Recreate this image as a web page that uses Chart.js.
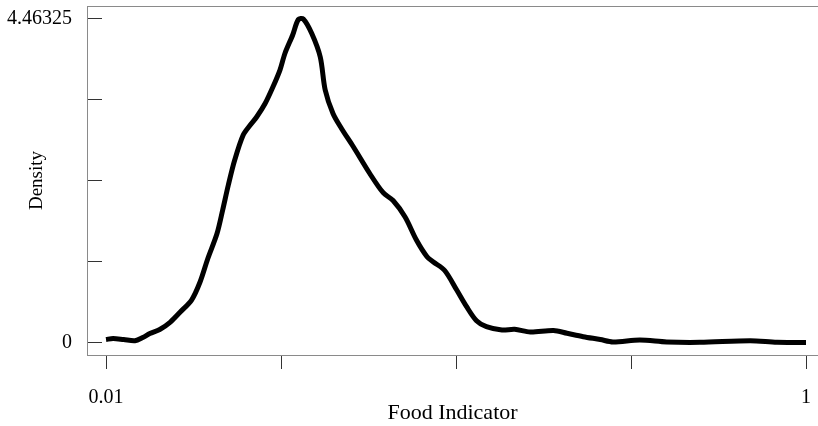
<!DOCTYPE html>
<html>
<head>
<meta charset="utf-8">
<script src="https://cdn.jsdelivr.net/npm/chart.js@4/dist/chart.umd.min.js"></script>
<style>
  html, body { margin: 0; padding: 0; background: #fff; }
  #wrap { width: 818px; height: 426px; position: relative; }
</style>
</head>
<body>
<div id="wrap"><canvas id="c" width="818" height="426"></canvas></div>
<script>
// Food indicator values (x) and estimated density (y)
const foodIndicator = [0.010, 0.020, 0.035, 0.051, 0.062, 0.072, 0.086, 0.101, 0.115, 0.131,
  0.143, 0.154, 0.167, 0.175, 0.183, 0.192, 0.204, 0.214, 0.223, 0.235,
  0.246, 0.256, 0.263, 0.274, 0.282, 0.289, 0.301, 0.313, 0.320, 0.331,
  0.343, 0.360, 0.383, 0.402, 0.416, 0.433, 0.449, 0.464, 0.473, 0.489,
  0.506, 0.520, 0.534, 0.548, 0.570, 0.588, 0.610, 0.643, 0.662, 0.685,
  0.709, 0.727, 0.765, 0.803, 0.850, 0.921, 0.959, 1.000];
const density = [0.041, 0.055, 0.041, 0.025, 0.069, 0.124, 0.179, 0.282, 0.420, 0.585,
  0.833, 1.157, 1.501, 1.825, 2.169, 2.513, 2.858, 2.996, 3.106, 3.292,
  3.519, 3.753, 3.981, 4.236, 4.449, 4.456, 4.256, 3.933, 3.478, 3.154,
  2.948, 2.693, 2.328, 2.063, 1.956, 1.729, 1.412, 1.182, 1.109, 0.992,
  0.723, 0.493, 0.300, 0.218, 0.172, 0.182, 0.145, 0.165, 0.127, 0.080,
  0.041, 0.008, 0.034, 0.007, 0.002, 0.025, 0.003, 0.001];

const xTickValues = [0.01, 0.2575, 0.505, 0.7525, 1];
const xTickLabels = ['0.01', '', '', '', '1'];
const yTickValues = [0, 1.1158, 2.2316, 3.3474, 4.46325];
const yTickLabels = ['0', '', '', '', '4.46325'];

const xTitle = 'Food Indicator';
const yTitle = 'Density';

const points = foodIndicator.map((x, i) => ({ x: x, y: density[i] }));
const serif = "'Liberation Serif', 'DejaVu Serif', serif";
const frameColor = '#8a8a8a';
const tickColor = '#333';

new Chart(document.getElementById('c'), {
  type: 'line',
  data: {
    datasets: [{
      data: points,
      borderColor: '#000',
      borderWidth: 5,
      pointRadius: 0,
      tension: 0.3,
      fill: false,
      borderJoinStyle: 'round',
      borderCapStyle: 'butt'
    }]
  },
  options: {
    responsive: false,
    animation: false,
    devicePixelRatio: 1,
    layout: { padding: 0 },
    plugins: { legend: { display: false }, tooltip: { enabled: false } },
    scales: {
      x: {
        type: 'linear',
        position: 'bottom',
        min: -0.0169,
        max: 1.01697,
        afterFit: s => { s.height = 71; s.paddingLeft = 0; s.paddingRight = 0; },
        afterBuildTicks: s => { s.ticks = xTickValues.map(v => ({ value: v })); },
        ticks: {
          autoSkip: false, maxRotation: 0, minRotation: 0,
          color: '#000', padding: 17,
          font: { family: serif, size: 20 },
          callback: (v, i) => xTickLabels[i]
        },
        grid: { drawOnChartArea: false, drawTicks: true, tickLength: 14, color: tickColor, lineWidth: 1 },
        border: { display: true, color: frameColor, width: 1 },
        title: { display: true, text: xTitle, color: '#000', font: { family: serif, size: 22 }, padding: { top: 0, bottom: 0 } }
      },
      xTop: {
        type: 'linear',
        position: 'top',
        min: -0.0169,
        max: 1.01697,
        afterFit: s => { s.height = 6; s.paddingLeft = 0; s.paddingRight = 0; },
        ticks: { display: false },
        grid: { display: false, drawTicks: false },
        border: { display: true, color: frameColor, width: 1 }
      },
      y: {
        type: 'linear',
        position: 'left',
        min: -0.172,
        max: 4.635,
        afterFit: s => { s.width = 87; s.paddingTop = 0; s.paddingBottom = 0; },
        afterBuildTicks: s => { s.ticks = yTickValues.map(v => ({ value: v })); },
        ticks: {
          autoSkip: false, color: '#000', padding: 30,
          font: { family: serif, size: 20 },
          callback: (v, i) => yTickLabels[i]
        },
        grid: { drawOnChartArea: false, drawTicks: true, tickLength: -15, color: tickColor, lineWidth: 1 },
        border: { display: true, color: frameColor, width: 1 },
        title: { display: true, text: yTitle, color: '#000', font: { family: serif, size: 19 }, padding: { top: 26, bottom: 0 } }
      }
    }
  }
});
</script>
</body>
</html>
